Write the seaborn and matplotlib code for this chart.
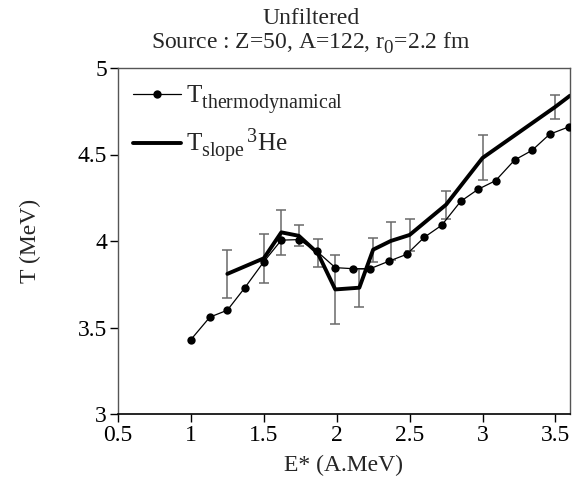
import numpy as np
import pandas as pd
import matplotlib
matplotlib.use("Agg")
import matplotlib.pyplot as plt
import seaborn as sns
from matplotlib.ticker import FuncFormatter

# larger, lower subscripts like the reference typesetting
try:
    import matplotlib._mathtext as _mt
    _mt.SHRINK_FACTOR = 0.8
    _mt.FontConstantsBase.sub1 = 0.5
    _mt.FontConstantsBase.sub2 = 0.65
except Exception:
    pass

# ---- data ----
e_thermo = [1.0, 1.13, 1.25, 1.37, 1.5, 1.62, 1.74, 1.865, 1.99, 2.11, 2.23,
            2.36, 2.48, 2.60, 2.72, 2.85, 2.97, 3.09, 3.22, 3.34, 3.46, 3.59]
t_thermo = [3.43, 3.56, 3.60, 3.73, 3.88, 4.005, 4.008, 3.94, 3.846, 3.84, 3.84,
            3.884, 3.923, 4.021, 4.091, 4.229, 4.299, 4.349, 4.468, 4.524, 4.617, 4.659]

e_slope = [1.25, 1.5, 1.62, 1.74, 1.87, 1.99, 2.155, 2.25, 2.37, 2.5, 2.75, 3.0, 3.5, 3.6]
t_slope = [3.81, 3.90, 4.05, 4.03, 3.93, 3.72, 3.73, 3.95, 4.0, 4.035, 4.21, 4.48, 4.776, 4.84]
err_slope = [0.14, 0.14, 0.13, 0.06, 0.08, 0.20, 0.11, 0.07, 0.11, 0.095, 0.08, 0.13, 0.07, np.nan]

x_ticks = [0.5, 1, 1.5, 2, 2.5, 3, 3.5]
y_ticks = [3, 3.5, 4, 4.5, 5]

title_lines = ["Unfiltered", r"Source : Z=50, A=122, r$_0$=2.2 fm"]
x_label = "E* (A.MeV)"
y_label = "T (MeV)"
label_thermo = r"T$_{\rm thermodynamical}$"
label_slope = r"T$_{\rm slope}$$^{\,\rm 3}$He"

# ---- style ----
sns.set_style("ticks")
plt.rcParams["font.family"] = ["Liberation Serif", "DejaVu Serif"]
plt.rcParams["mathtext.fontset"] = "custom"
plt.rcParams["mathtext.rm"] = "Liberation Serif"
plt.rcParams["mathtext.it"] = "Liberation Serif:italic"

fig = plt.figure(figsize=(5.72, 4.83), dpi=100)
ax = fig.add_axes([118 / 572, 1 - 414 / 483, (570 - 118) / 572, (414 - 68) / 483])

df_t = pd.DataFrame({"E": e_thermo, "T": t_thermo})
df_s = pd.DataFrame({"E": e_slope, "T": t_slope, "err": err_slope})

# error bars of slope temperature
ax.errorbar(df_s["E"], df_s["T"], yerr=df_s["err"], fmt="none",
            ecolor="#6a6a6a", elinewidth=1.1, capsize=3.5, capthick=1.1, zorder=1)

sns.lineplot(data=df_t, x="E", y="T", ax=ax, color="black", linewidth=0.9,
             marker="o", markersize=6, markeredgewidth=0, sort=False,
             label=label_thermo, zorder=3)
sns.lineplot(data=df_s, x="E", y="T", ax=ax, color="black", linewidth=2.8,
             sort=False, label=label_slope, zorder=2)

ax.set_xlim(0.5, 3.6)
ax.set_ylim(3, 5)
ax.set_xticks(x_ticks)
ax.set_yticks(y_ticks)
fmt = FuncFormatter(lambda v, p: ("%g" % v))
ax.xaxis.set_major_formatter(fmt)
ax.yaxis.set_major_formatter(fmt)
ax.tick_params(axis="both", direction="out", length=6, width=1, labelsize=17,
               colors="black", pad=2)

for side in ["top", "right", "left"]:
    ax.spines[side].set_visible(True)
    ax.spines[side].set_color("#555555")
    ax.spines[side].set_linewidth(1)
ax.spines["bottom"].set_color("black")
ax.spines["bottom"].set_linewidth(1.2)

ax.set_xlabel(x_label, fontsize=17, labelpad=6)
ax.set_ylabel("")
fig.text(30 / 572, 1 - 241 / 483, y_label, rotation=90, fontsize=17,
         ha="center", va="center")

fig.text(311 / 572, 1 - 18 / 483, title_lines[0], fontsize=17, ha="center", va="center")
fig.text(311 / 572, 1 - 43 / 483, title_lines[1], fontsize=17, ha="center", va="center")

leg = ax.legend(loc="upper left", bbox_to_anchor=(0.0, 1.0), frameon=False,
                fontsize=18, handlelength=1.9, handletextpad=0.2,
                labelspacing=0.4, borderaxespad=0.2, numpoints=1)

fig.savefig("out.png", dpi=100)
